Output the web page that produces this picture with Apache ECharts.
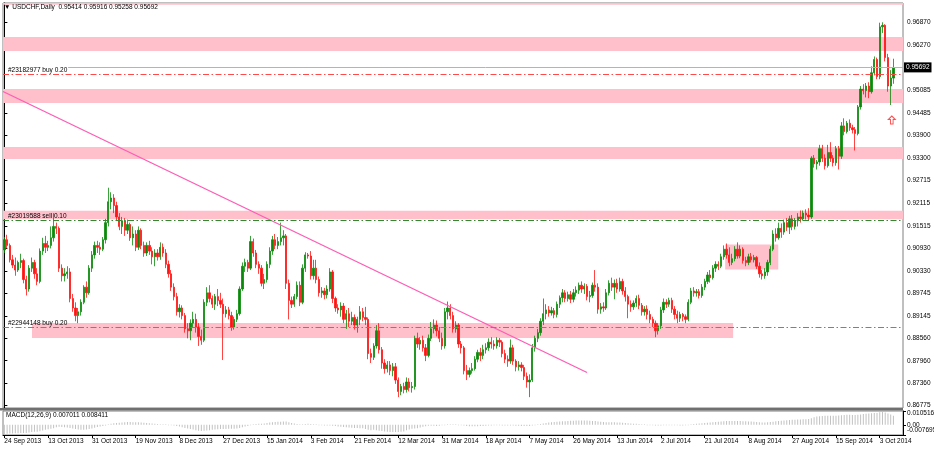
<!DOCTYPE html>
<html>
<head>
<meta charset="utf-8">
<script src="https://cdn.jsdelivr.net/npm/echarts@6/dist/echarts.min.js"></script>
<style>
  html, body { margin: 0; padding: 0; background: #fff; }
  #chart { width: 934px; height: 450px; }
</style>
</head>
<body>
<div id="chart"></div>
<script>
// header texts
const header = '▼ USDCHF,Daily  0.95414 0.95916 0.95258 0.95692'
const macdTitle = 'MACD(12,26,9) 0.007011 0.008411'

// one date label every 16 bars
const labelStep = 16
const dateLabels = ['24 Sep 2013', '13 Oct 2013', '31 Oct 2013', '19 Nov 2013', '8 Dec 2013', '27 Dec 2013',
  '15 Jan 2014', '3 Feb 2014', '21 Feb 2014', '12 Mar 2014', '31 Mar 2014', '18 Apr 2014', '7 May 2014',
  '26 May 2014', '13 Jun 2014', '2 Jul 2014', '21 Jul 2014', '8 Aug 2014', '27 Aug 2014', '15 Sep 2014', '3 Oct 2014']
const slots = 329 // bars + chart shift on the right

const priceTicks = [0.96870, 0.96270, 0.95085, 0.94485, 0.93900, 0.93300, 0.92715, 0.92115, 0.91515,
  0.90930, 0.90330, 0.89745, 0.89145, 0.88560, 0.87960, 0.87360, 0.86775]
const priceMin = 0.86714
const priceMax = 0.97389
const macdMin = -0.007695
const macdMax = 0.010516
const bid = 0.95692

// daily bars in pips: [open, close, low, high]
const candlePips = [
  [9088,9115,9080,9122],[9115,9100,9092,9128],[9100,9062,9055,9105],[9062,9048,9040,9075],[9048,9035,9020,9068],
  [9035,9055,9030,9060],[9055,9060,9040,9078],[9060,9010,9000,9065],[9010,8985,8968,9020],[8985,9040,8978,9048],
  [9040,9055,9030,9068],[9055,9025,9012,9062],[9025,9005,8995,9040],[9005,9085,9000,9092],[9085,9105,9075,9120],
  [9105,9095,9080,9125],[9095,9100,9085,9112],[9100,9120,9092,9150],[9120,9150,9110,9185],[9150,9145,9130,9160],
  [9145,9040,9030,9150],[9040,9020,9005,9050],[9020,9025,9005,9040],[9025,9030,9012,9045],[9030,8960,8950,9040],
  [8960,8935,8925,8972],[8935,8915,8900,8950],[8915,8925,8895,8935],[8925,8950,8915,8958],[8950,8990,8945,8995],
  [8990,8975,8962,9005],[8975,9040,8970,9048],[9040,9075,9030,9085],[9075,9100,9065,9110],[9100,9095,9080,9112],
  [9095,9090,9075,9108],[9090,9115,9085,9122],[9115,9160,9105,9170],[9160,9215,9150,9252],[9215,9225,9195,9240],
  [9225,9205,9185,9235],[9205,9175,9165,9215],[9175,9150,9140,9185],[9150,9165,9130,9175],[9165,9140,9125,9172],
  [9140,9155,9130,9168],[9155,9120,9112,9160],[9120,9130,9100,9150],[9130,9095,9085,9140],[9095,9140,9088,9150],
  [9140,9100,9090,9145],[9100,9080,9070,9110],[9080,9100,9072,9108],[9100,9085,9075,9112],[9085,9070,9050,9095],
  [9070,9080,9045,9090],
  [9080,9070,9060,9090],[9070,9095,9062,9108],[9095,9080,9070,9105],[9080,9050,9040,9090],[9050,9025,9015,9060],
  [9025,8990,8980,9035],[8990,8965,8955,9000],[8965,8925,8915,8975],[8925,8935,8910,8945],[8935,8915,8905,8942],
  [8915,8880,8870,8922],[8880,8875,8855,8895],[8875,8895,8850,8905],[8895,8905,8885,8925],[8905,8885,8870,8920],
  [8885,8860,8835,8895],[8860,8850,8838,8878],[8850,8950,8845,8958],[8950,8975,8940,8990],[8975,8960,8950,8995],
  [8960,8945,8935,8968],[8945,8965,8930,8972],[8965,8955,8940,8985],[8955,8945,8935,8975],[8945,8920,8798,8960],
  [8920,8930,8910,8940],[8930,8915,8905,8938],[8915,8885,8875,8925],[8885,8905,8878,8912],[8905,8920,8898,8930],
  [8920,8985,8915,8992],[8985,9045,8980,9055],[9045,9055,9030,9065],[9055,9040,9030,9062],[9040,9110,9035,9125],
  [9110,9080,9070,9118],[9080,9050,9040,9088],[9050,9040,9025,9058],[9040,9000,8992,9048],[9000,9010,8985,9025],
  [9010,9050,9002,9058],[9050,9085,9040,9095],[9085,9115,9075,9125],[9115,9100,9090,9130],[9100,9110,9090,9122],
  [9110,9120,9100,9160],[9120,9125,9100,9140],[9125,9000,8985,9130],[9000,8955,8905,9010],[8955,8945,8935,8965],
  [8945,8965,8938,8972],[8965,8995,8958,9005],[8995,8950,8940,9005],[8950,9040,8945,9050],[9040,9075,9030,9082],
  [9075,9072,9065,9080],[9072,9020,9010,9085],[9020,9040,9010,9062],[9040,9010,9000,9062],[9010,8975,8965,9018],
  [8975,8980,8962,8990],[8980,8970,8958,8988],[8970,8985,8960,8995],[8985,9030,8978,9040],[9030,8960,8948,9035],
  [8960,8935,8925,8965],[8935,8930,8920,8945],[8930,8940,8912,8950],[8940,8905,8895,8948],[8905,8920,8880,8930],
  [8920,8900,8885,8935],[8900,8910,8890,8925],[8910,8890,8878,8918],[8890,8905,8870,8912],[8905,8925,8890,8940],
  [8925,8910,8900,8935],[8910,8905,8890,8938],[8905,8815,8800,8910],[8815,8805,8790,8828],[8805,8835,8798,8842],
  [8835,8875,8828,8890],[8875,8825,8815,8895],[8825,8790,8775,8832],[8790,8775,8762,8800],[8775,8785,8765,8795],
  [8785,8770,8758,8795],[8770,8780,8755,8790],[8780,8745,8735,8790],[8745,8715,8700,8752],[8715,8728,8705,8735],
  [8728,8720,8710,8738],[8720,8740,8712,8752],[8740,8725,8715,8750],[8725,8728,8712,8740],[8728,8855,8720,8862],
  [8855,8840,8830,8870],[8840,8850,8825,8858],[8850,8830,8820,8862],[8830,8810,8795,8840],[8810,8855,8805,8865],
  [8855,8880,8848,8898],[8880,8890,8868,8905],[8890,8875,8860,8902],[8875,8855,8845,8885],[8855,8835,8825,8870],
  [8835,8925,8828,8935],[8925,8935,8905,8952],[8935,8915,8905,8945],[8915,8880,8870,8925],[8880,8890,8870,8900],
  [8890,8840,8830,8895],[8840,8830,8815,8848],[8830,8770,8760,8835],[8770,8760,8745,8785],[8760,8770,8752,8778],
  [8770,8775,8762,8790],[8775,8800,8770,8808],[8800,8818,8792,8825],[8818,8810,8795,8830],[8810,8825,8800,8838],
  [8825,8830,8815,8842],[8830,8845,8822,8855],[8845,8840,8828,8858],[8840,8835,8825,8850],[8835,8850,8828,8858],
  [8850,8845,8832,8856],[8845,8815,8805,8850],[8815,8800,8790,8825],[8800,8795,8780,8810],[8795,8830,8788,8852],
  [8830,8795,8785,8838],[8795,8780,8768,8800],[8780,8785,8770,8795],[8785,8778,8768,8792],[8778,8755,8745,8785],
  [8755,8740,8725,8765],[8740,8745,8700,8760],[8745,8830,8740,8840],[8830,8855,8820,8862],[8855,8870,8845,8880],
  [8870,8900,8862,8908],[8900,8920,8890,8960],[8920,8930,8905,8945],[8930,8922,8912,8940],[8922,8928,8915,8938],
  [8928,8918,8908,8935],[8918,8945,8910,8952],[8945,8962,8935,8968],[8962,8975,8950,8985],[8975,8960,8950,8982],
  [8960,8970,8952,8978],[8970,8958,8948,8980],[8958,8975,8950,8985],[8975,8982,8965,8992],[8982,8995,8972,9002],
  [8995,8985,8975,9005],[8985,8992,8972,9000],[8992,8965,8955,8998],[8965,8968,8950,8980],[8968,8995,8962,9002],
  [8995,8990,8978,9035],[8990,8932,8920,9000],[8932,8938,8920,8948],[8938,8935,8925,8950],[8935,8975,8930,8985],
  [8975,9000,8968,9008],
  [9000,8990,8980,9015],[8990,9000,8958,9010],[9000,8985,8975,9012],[8985,9005,8978,9015],[9005,8980,8970,9012],
  [8980,8965,8952,8990],[8965,8945,8908,8970],[8945,8938,8925,8955],[8938,8948,8930,8955],[8948,8960,8938,8968],
  [8960,8942,8932,8970],[8942,8925,8915,8948],[8925,8932,8915,8940],[8932,8918,8905,8942],[8918,8905,8895,8928],
  [8905,8895,8885,8912],[8895,8875,8858,8902],[8875,8888,8865,8895],[8888,8930,8880,8938],[8930,8950,8922,8960],
  [8950,8945,8935,8958],[8945,8955,8938,8962],[8955,8932,8922,8962],[8932,8918,8905,8940],[8918,8908,8895,8928],
  [8908,8918,8898,8925],[8918,8912,8900,8922],[8912,8905,8895,8918],[8905,8950,8900,8958],[8950,8980,8945,8988],
  [8980,8975,8965,8990],[8975,8978,8965,8985],[8978,8968,8960,8985],[8968,8990,8962,8998],[8990,9005,8982,9012],
  [9005,9022,8998,9030],[9022,9015,9002,9035],[9015,9040,9010,9048],[9040,9050,9030,9058],[9050,9045,9035,9058],
  [9045,9070,9040,9078],[9070,9090,9062,9100],[9090,9075,9065,9105],[9075,9055,9045,9095],[9055,9065,9048,9078],
  [9065,9090,9058,9098],[9090,9072,9065,9108],[9072,9090,9066,9100],[9090,9060,9052,9095],[9060,9055,9045,9070],
  [9055,9070,9048,9078],[9070,9062,9055,9080],[9062,9068,9055,9075],[9068,9045,9038,9072],[9045,9025,9015,9055],
  [9025,9020,9010,9035],[9020,9030,9012,9040],[9030,9055,9020,9062],[9055,9090,9048,9098],[9090,9130,9085,9140],
  [9130,9120,9110,9145],[9120,9145,9115,9160],
  [9145,9135,9120,9158],[9135,9160,9128,9168],[9160,9148,9138,9172],[9148,9170,9130,9178],[9170,9150,9140,9180],
  [9150,9165,9142,9172],[9165,9175,9150,9185],[9175,9170,9160,9192],[9170,9185,9165,9192],[9185,9180,9168,9195],
  [9180,9175,9165,9198],[9175,9330,9170,9335],[9330,9315,9305,9338],[9315,9320,9300,9325],[9320,9355,9310,9365],
  [9355,9330,9320,9365],[9330,9310,9300,9340],[9310,9345,9305,9365],[9345,9330,9320,9372],[9330,9318,9308,9338],
  [9318,9355,9310,9362],[9355,9335,9300,9362],[9335,9415,9328,9425],[9415,9400,9390,9435],[9400,9422,9395,9428],
  [9422,9410,9402,9432],[9410,9405,9395,9418],[9405,9395,9350,9412],[9395,9465,9390,9470],[9465,9512,9458,9520],
  [9512,9508,9498,9525],[9508,9520,9490,9528],[9520,9505,9488,9530],[9505,9555,9500,9572],[9555,9590,9548,9598],
  [9590,9545,9538,9595],[9545,9676,9538,9687],[9676,9680,9660,9688],[9680,9595,9585,9683],[9595,9520,9505,9605],
  [9520,9541,9470,9562],[9541,9569,9526,9592]
]

// MACD main line per bar, in 1e-4
const macdPips = [
  -70,-68,-66,-65,-64,-63,
  -62,-62,-61,-58,-55,-53,-52,-48,-42,
  -38,-34,-30,-25,-18,-15,-16,-18,-20,-24,-28,
  -32,-36,-38,-38,-36,-32,-27,-22,-17,
  -12,-8,-4,2,8,12,
  14,16,18,20,21,21,20,20,20,
  18,16,14,12,10,8,6,5,
  4,3,1,-2,-5,-9,
  -13,-18,-23,-28,-32,-36,-40,-44,-46,-45,-42,-40,-38,-36,-34,
  -32,-32,-31,-30,-30,-29,-27,-24,-18,-12,-8,
  -2,3,6,8,9,11,14,17,20,22,23,24,25,25,20,14,
  10,7,4,4,6,8,7,5,3,0,-2,-4,
  -5,-4,-6,-9,-12,-14,-17,-19,-20,-22,-23,-24,-25,-26,-32,-38,-40,-38,-40,-44,
  -47,-50,-52,-54,-55,-55,-54,-52,-50,-40,-35,-30,-27,-25,-20,-14,-10,-7,-6,-6,-8,
  -6,-2,1,4,5,4,2,0,-2,-5,-8,-10,-11,-11,
  -10,-9,-8,-6,-5,-4,-3,-3,-3,-4,-5,-5,-4,-5,-6,-7,-8,-9,
  -9,-8,-5,-2,2,6,10,14,17,19,21,23,25,27,28,
  30,31,32,33,33,34,34,33,32,30,29,26,23,
  21,20,20,20,19,18,17,16,14,12,10,9,8,6,5,3,1,-1,
  -3,-5,-5,-4,-2,-1,-1,-2,-3,-3,-4,-4,-2,1,4,6,
  8,10,12,14,16,18,20,22,24,26,28,29,30,30,30,30,
  29,28,27,26,25,24,22,20,18,18,19,21,24,27,30,
  32,33,35,36,38,39,40,41,42,43,44,50,58,
  63,66,68,69,70,70,70,70,71,73,75,76,76,75,74,76,79,82,84,86,88,90,
  90,96,99,94,86,78,70
]

// drawn objects, x in bar units
const zones = [ // [fromBar, toBar, upperPrice, lowerPrice]
  [-0.5, 328.5, 0.97389, 0.97340],
  [-0.5, 328.5, 0.96493, 0.96124],
  [-0.5, 328.5, 0.95122, 0.94753],
  [-0.5, 328.5, 0.93593, 0.93277],
  [-0.5, 328.5, 0.91914, 0.91688],
  [10.1, 266.4, 0.88954, 0.88558],
  [263.5, 282.9, 0.91022, 0.90363]
]
const orders = [
  { text: '#23182977 buy 0.20', price: 0.95505, side: 'buy' },
  { text: '#23019588 sell 0.10', price: 0.91656, side: 'sell' },
  { text: '#22944148 buy 0.20', price: 0.88836, side: 'buy' }
]
const trendLine = [[-0.5, 0.95057], [213, 0.87649]]
const bidFrom = 23.3
const arrowAt = [324.4, 0.94305]

const FONT = 'Liberation Sans, DejaVu Sans, sans-serif'
const txt = { fontFamily: FONT, fontSize: 6.5, color: '#000' }

const candles = candlePips.map(r => r.map(v => v / 10000))
const macd = macdPips.map((v, i) => [i, v / 10000])
const slotNames = Array.from({ length: slots }, (_, i) => String(i))
const isLabel = (i) => i % labelStep === 0

const chart = echarts.init(document.getElementById('chart'), null, { renderer: 'canvas' })

const macdAxis = (values, rich, line) => ({
  type: 'value', gridIndex: 1, position: 'right', min: macdMin, max: macdMax,
  axisLine: { show: line, lineStyle: { color: '#000' } },
  axisTick: { show: true, length: 3, customValues: values, lineStyle: { color: '#000' } },
  axisLabel: {
    customValues: values, margin: 4, hideOverlap: false, ...txt,
    formatter: v => v === 0 ? '{s|0.00}' : '{s|' + v.toFixed(6) + '}',
    rich: { s: { ...txt, lineHeight: 5, ...rich } }
  },
  splitLine: { show: false }
})

const option = {
  animation: false,
  backgroundColor: '#fff',
  title: [
    { text: header, left: 4, top: 4, padding: 0, textStyle: { ...txt, fontWeight: 'normal' } },
    { text: macdTitle, left: 6, top: 412, padding: 0, textStyle: { ...txt, fontWeight: 'normal' } }
  ],
  grid: [
    { left: 3, right: 31, top: 3, height: 405, show: true, borderColor: '#808080', borderWidth: 1, outerBoundsMode: 'none' },
    { left: 3, right: 31, top: 411, height: 24, show: true, borderColor: '#808080', borderWidth: 1, outerBoundsMode: 'none' }
  ],
  xAxis: [
    { type: 'category', gridIndex: 0, data: slotNames, show: false },
    {
      type: 'category', gridIndex: 1, data: slotNames,
      axisLine: { show: true, onZero: false, lineStyle: { color: '#000', width: 1 } },
      axisTick: { show: true, interval: isLabel, alignWithLabel: true, length: 3, lineStyle: { color: '#000' } },
      axisLabel: {
        interval: isLabel, align: 'left', margin: 3, ...txt,
        formatter: (v, i) => dateLabels[i / labelStep] || ''
      },
      splitLine: { show: false }
    },
    { type: 'value', gridIndex: 0, min: -0.5, max: slots - 0.5, show: false }
  ],
  yAxis: [
    {
      type: 'value', gridIndex: 0, position: 'right', min: priceMin, max: priceMax, scale: true,
      axisLine: { show: true, lineStyle: { color: '#000' } },
      axisTick: { show: true, length: 3, customValues: priceTicks, lineStyle: { color: '#000' } },
      axisLabel: { customValues: priceTicks, margin: 4, hideOverlap: false, ...txt, formatter: v => v.toFixed(5) },
      splitLine: { show: false }
    },
    macdAxis([0], {}, true),
    macdAxis([macdMax], { padding: [5, 0, 0, 0] }, false),
    macdAxis([macdMin], { padding: [0, 0, 9, 0] }, false)
  ],
  graphic: [
    { type: 'rect', shape: { x: 0, y: 408, width: 903, height: 2.5 }, style: { fill: '#707070' }, z: 10 }
  ],
  series: [
    {
      name: 'USDCHF', type: 'candlestick', xAxisIndex: 0, yAxisIndex: 0, z: 2,
      data: candles, barWidth: 1.8,
      itemStyle: { color: '#0a8a0a', color0: '#ff1414', borderColor: '#0a8a0a', borderColor0: '#ff1414', borderWidth: 0.8 }
    },
    {
      name: 'trend', type: 'line', xAxisIndex: 2, yAxisIndex: 0, z: 3,
      data: trendLine, symbol: 'none', silent: true,
      lineStyle: { color: '#ff5cb4', width: 1.3 },
      markArea: {
        silent: true,
        itemStyle: { color: '#ffc0cb' },
        data: zones.map(z => [{ coord: [z[0], z[2]] }, { coord: [z[1], z[3]] }])
      },
      markLine: {
        silent: true, symbol: ['none', 'none'], precision: 5,
        data: orders.map(o => ({
          yAxis: o.price,
          lineStyle: { color: o.side === 'buy' ? '#ff4a4a' : '#2e8b2e', width: 1, type: [6, 2.5, 1.5, 2.5] },
          label: { show: true, position: 'insideStartTop', distance: [5, 1], formatter: o.text, ...txt }
        })).concat([[
          {
            coord: [bidFrom, bid],
            lineStyle: { color: '#b4b4b4', width: 1, type: 'solid' },
            label: {
              show: true, position: 'end', distance: 1, formatter: bid.toFixed(5),
              ...txt, color: '#fff', backgroundColor: '#000', padding: [2, 2, 1, 2]
            }
          },
          { coord: [slots - 0.5, bid] }
        ]])
      },
      markPoint: {
        silent: true,
        symbol: 'path://M4,0 L8,4 L5.5,4 L5.5,9 L2.5,9 L2.5,4 L0,4 Z',
        symbolSize: [7, 8],
        itemStyle: { color: '#fff', borderColor: '#ff5050', borderWidth: 1 },
        label: { show: false },
        data: [{ coord: arrowAt }]
      }
    },
    {
      // MACD histogram, each bar drawn from the zero line
      name: 'MACD', type: 'custom', xAxisIndex: 1, yAxisIndex: 1, z: 3, silent: true,
      data: macd, encode: { x: 0, y: 1 },
      renderItem: (params, api) => {
        const base = api.coord([api.value(0), 0])
        const top = api.coord([api.value(0), api.value(1)])
        return {
          type: 'rect',
          shape: { x: base[0] - 0.5, y: Math.min(base[1], top[1]), width: 1, height: Math.max(Math.abs(top[1] - base[1]), 0.5) },
          style: { fill: '#c2c2c2' }
        }
      }
    }
  ]
}

chart.setOption(option)
</script>
</body>
</html>
